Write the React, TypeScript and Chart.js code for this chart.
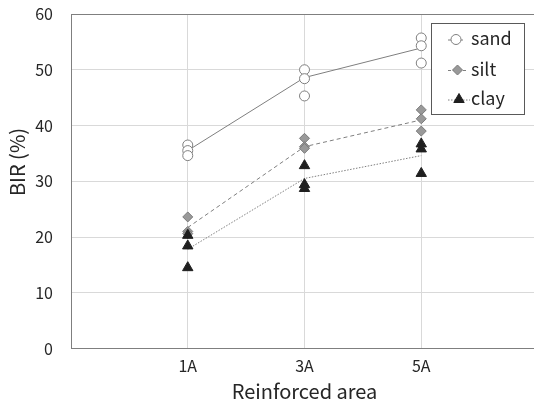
import React, { useEffect, useRef } from 'react';
import { Chart, registerables } from 'chart.js';

Chart.register(...registerables);

// ---- data ----
const categories = ['1A', '3A', '5A'];
const categoryX = [1, 2, 3];
const seriesNames = ['sand', 'silt', 'clay'];
const sandValues = [[36.5, 35.5, 34.6], [50.0, 48.4, 45.3], [55.7, 54.3, 51.2]];
const siltValues = [[23.6, 21.0, 20.6], [37.7, 36.2, 35.9], [42.8, 41.2, 39.0]];
const clayValues = [[20.3, 18.4, 14.5], [32.8, 29.4, 28.7], [36.7, 35.8, 31.4]];
const sandLine = [35.5, 48.6, 53.9];
const siltLine = [21.7, 36.2, 41.0];
const clayLine = [17.8, 30.5, 34.6];
const yTicks = [0, 10, 20, 30, 40, 50, 60];
const xTitle = 'Reinforced area';
const yTitle = 'BIR (%)';

const FONT = "'Noto Sans CJK KR', 'Noto Sans', sans-serif";
const TEXT = '#262626';
const LINE = '#7f7f7f';

const toPoints = (vals: number[][]) =>
  vals.flatMap((arr, i) => arr.map((v) => ({ x: categoryX[i], y: v })));
const toLine = (vals: number[]) => vals.map((v, i) => ({ x: categoryX[i], y: v }));

function drawMarker(ctx: CanvasRenderingContext2D, kind: string, x: number, y: number) {
  ctx.save();
  ctx.setLineDash([]);
  ctx.lineWidth = 1;
  ctx.beginPath();
  if (kind === 'sand') {
    ctx.arc(x, y, 5, 0, Math.PI * 2);
    ctx.fillStyle = '#ffffff';
    ctx.strokeStyle = LINE;
  } else if (kind === 'silt') {
    const r = 5;
    ctx.moveTo(x, y - r);
    ctx.lineTo(x + r, y);
    ctx.lineTo(x, y + r);
    ctx.lineTo(x - r, y);
    ctx.closePath();
    ctx.fillStyle = '#999999';
    ctx.strokeStyle = '#7a7a7a';
  } else {
    const r = 6;
    ctx.moveTo(x, y - r);
    ctx.lineTo(x + r * 0.866, y + r / 2);
    ctx.lineTo(x - r * 0.866, y + r / 2);
    ctx.closePath();
    ctx.fillStyle = '#1f1f1f';
    ctx.strokeStyle = '#1f1f1f';
  }
  ctx.fill();
  ctx.stroke();
  ctx.restore();
}

const decorPlugin = {
  id: 'decor',
  afterDraw(chart: any) {
    const ctx: CanvasRenderingContext2D = chart.ctx;
    const area = chart.chartArea;
    ctx.save();
    // top border of plot area
    ctx.strokeStyle = LINE;
    ctx.lineWidth = 1;
    ctx.beginPath();
    const ty = Math.round(area.top) + 0.5;
    ctx.moveTo(area.left, ty);
    ctx.lineTo(area.right, ty);
    ctx.stroke();

    // y title
    ctx.fillStyle = TEXT;
    ctx.font = `20px ${FONT}`;
    ctx.textAlign = 'center';
    ctx.textBaseline = 'middle';
    ctx.translate(17.5, 162);
    ctx.rotate(-Math.PI / 2);
    ctx.fillText(yTitle, 0, 0);
    ctx.restore();

    // legend
    ctx.save();
    ctx.fillStyle = '#ffffff';
    ctx.fillRect(431, 23, 94, 92);
    ctx.strokeStyle = '#595959';
    ctx.lineWidth = 1;
    ctx.strokeRect(431.5, 23.5, 93, 91);
    const rows = [39.5, 70, 99.5];
    const dashes: number[][] = [[], [3, 2], [1.5, 1.5]];
    const segs = [[448, 463], [448, 466], [448, 470]];
    const mx = [456, 457.5, 459];
    seriesNames.forEach((name, i) => {
      const y = rows[i];
      ctx.save();
      ctx.strokeStyle = LINE;
      ctx.lineWidth = 1;
      ctx.setLineDash(dashes[i]);
      ctx.beginPath();
      ctx.moveTo(segs[i][0], y + 0.5);
      ctx.lineTo(segs[i][1], y + 0.5);
      ctx.stroke();
      ctx.restore();
      drawMarker(ctx, name, mx[i], y);
      ctx.fillStyle = TEXT;
      ctx.font = `18px ${FONT}`;
      ctx.textAlign = 'left';
      ctx.textBaseline = 'middle';
      ctx.fillText(name, 471, y - 1);
    });
    ctx.restore();
  },
};

export default function App() {
  const ref = useRef<HTMLCanvasElement | null>(null);
  useEffect(() => {
    if (!ref.current) return;
    const common = { showLine: false, borderWidth: 1 };
    const chart = new Chart(ref.current, {
      type: 'scatter',
      data: {
        datasets: [
          {
            label: 'clay',
            data: toPoints(clayValues),
            ...common,
            pointStyle: 'triangle',
            pointRadius: 6,
            backgroundColor: '#1f1f1f',
            borderColor: '#1f1f1f',
            order: 0,
          },
          {
            label: 'silt',
            data: toPoints(siltValues),
            ...common,
            pointStyle: 'rectRot',
            pointRadius: 5,
            backgroundColor: '#999999',
            borderColor: '#7a7a7a',
            order: 0,
          },
          {
            label: 'sand',
            data: toPoints(sandValues),
            ...common,
            pointStyle: 'circle',
            pointRadius: 5,
            backgroundColor: '#ffffff',
            borderColor: LINE,
            order: 0,
          },
          {
            label: 'sand mean',
            data: toLine(sandLine),
            showLine: true,
            pointRadius: 0,
            borderColor: LINE,
            borderWidth: 1,
            order: 1,
          },
          {
            label: 'silt mean',
            data: toLine(siltLine),
            showLine: true,
            pointRadius: 0,
            borderColor: LINE,
            borderWidth: 1,
            borderDash: [4, 3],
            order: 1,
          },
          {
            label: 'clay mean',
            data: toLine(clayLine),
            showLine: true,
            pointRadius: 0,
            borderColor: LINE,
            borderWidth: 1,
            borderDash: [1.5, 1.5],
            order: 1,
          },
        ],
      },
      options: {
        animation: false,
        responsive: false,
        devicePixelRatio: 1,
        layout: { padding: { top: 14, right: 7, left: 0, bottom: 0 } },
        plugins: { legend: { display: false }, tooltip: { enabled: false } },
        scales: {
          x: {
            type: 'linear',
            min: 0,
            max: 4,
            afterBuildTicks: (s: any) => {
              s.ticks = categoryX.map((v) => ({ value: v }));
            },
            afterFit: (s: any) => {
              s.height = 58.5;
              s.paddingLeft = 0;
              s.paddingRight = 0;
            },
            ticks: {
              callback: (v: any) => {
                const i = categoryX.indexOf(Number(v));
                return i >= 0 ? categories[i] : '';
              },
              font: { family: FONT, size: 16 },
              color: TEXT,
              padding: 8,
              maxRotation: 0,
            },
            grid: { color: '#d9d9d9', drawTicks: false },
            border: { color: LINE, width: 1 },
            title: {
              display: true,
              text: xTitle,
              font: { family: FONT, size: 20 },
              color: TEXT,
              padding: { top: 0, bottom: 4 },
            },
          },
          y: {
            type: 'linear',
            min: 0,
            max: 60,
            afterBuildTicks: (s: any) => {
              s.ticks = yTicks.map((v) => ({ value: v }));
            },
            afterFit: (s: any) => {
              s.width = 71;
              s.paddingTop = 0;
              s.paddingBottom = 0;
            },
            ticks: {
              font: { family: FONT, size: 16 },
              color: TEXT,
              padding: 18,
            },
            grid: {
              color: (c: any) => (c.tick && c.tick.value === 60 ? LINE : '#d9d9d9'),
              drawTicks: false,
            },
            border: { color: LINE, width: 1 },
          },
        },
      },
      plugins: [decorPlugin],
    } as any);
    return () => chart.destroy();
  }, []);

  return (
    <div
      style={{
        position: 'absolute',
        left: 0,
        top: 0,
        width: 534,
        height: 407,
        overflow: 'hidden',
        background: '#ffffff',
      }}
    >
      <canvas ref={ref} width={545} height={407} style={{ width: 545, height: 407, display: 'block' }} />
    </div>
  );
}
